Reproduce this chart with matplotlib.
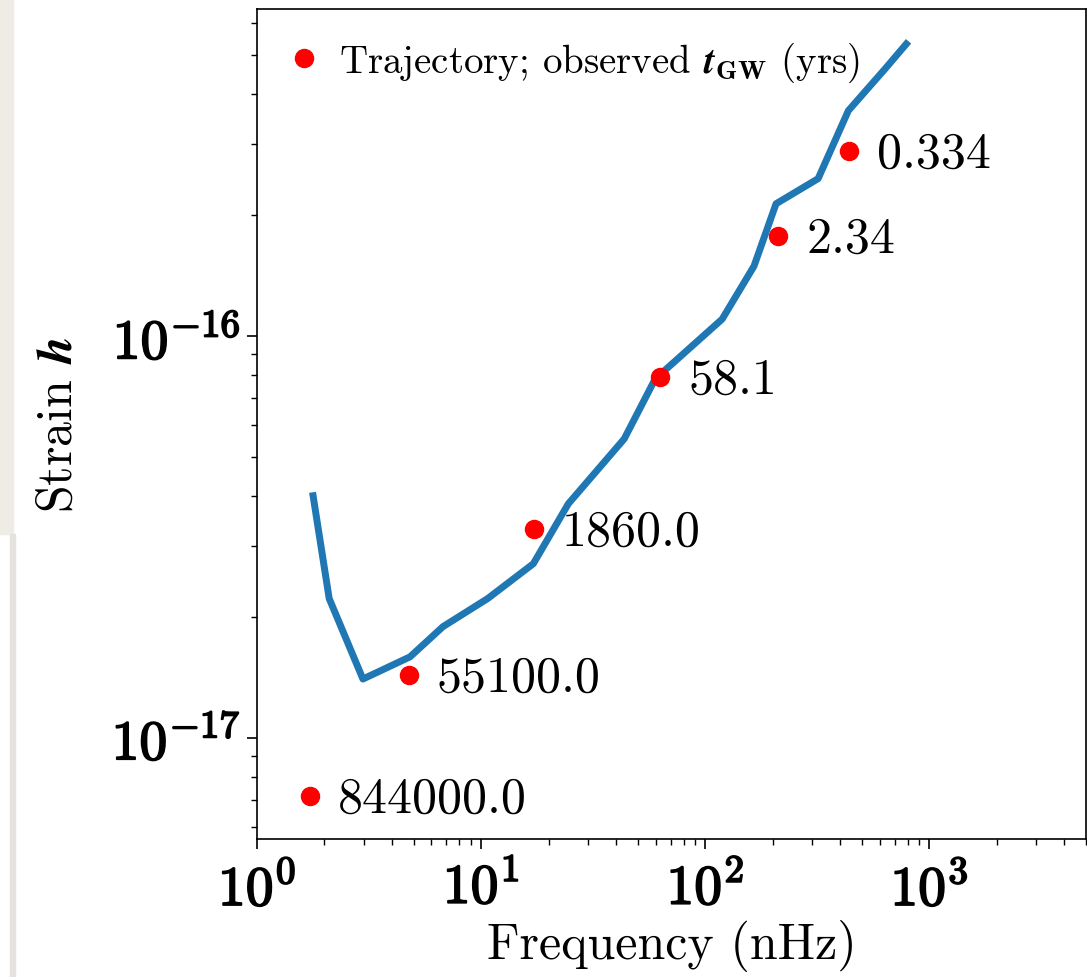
import numpy as np
import matplotlib
matplotlib.use("Agg")
import matplotlib.pyplot as plt
import matplotlib.patheffects as pe
from matplotlib.patches import Rectangle
from matplotlib.ticker import FuncFormatter, LogLocator, NullFormatter

# ---------------------------------------------------------------
# data
# ---------------------------------------------------------------
# blue curve: frequency (nHz) and strain
curve_freq = [1.78, 2.10, 2.97, 4.82, 6.76, 10.7, 17.1, 24.5, 43.5, 59.8,
              119, 165, 207, 319, 435, 636, 789]
curve_strain = [4.0e-17, 2.22e-17, 1.40e-17, 1.59e-17, 1.89e-17, 2.22e-17,
                2.71e-17, 3.82e-17, 5.54e-17, 7.81e-17, 1.10e-16, 1.49e-16,
                2.13e-16, 2.46e-16, 3.63e-16, 4.62e-16, 5.32e-16]

# red trajectory points with observed t_GW (yrs)
traj_freq = [1.72, 4.77, 17.2, 63.0, 212, 439]
traj_strain = [7.18e-18, 1.43e-17, 3.31e-17, 7.91e-17, 1.77e-16, 2.88e-16]
traj_tgw = ["844000.0", "55100.0", "1860.0", "58.1", "2.34", "0.334"]

# ---------------------------------------------------------------
# style: computer modern look
# ---------------------------------------------------------------
plt.rcParams["font.family"] = "serif"
plt.rcParams["font.serif"] = ["cmr10", "DejaVu Serif"]
plt.rcParams["mathtext.fontset"] = "cm"
plt.rcParams["axes.unicode_minus"] = False
plt.rcParams["axes.formatter.use_mathtext"] = True

fig = plt.figure(figsize=(10.87, 9.78), dpi=100)
ax = fig.add_axes([0.2364, 0.1411, 0.7627, 0.8487])

# little bit of page background on the far left, as in the screenshot
fig.patches.append(Rectangle((0, 1 - 535 / 978), 13 / 1087, 535 / 978,
                             transform=fig.transFigure, color="#efebe5", zorder=-5))
fig.patches.append(Rectangle((10 / 1087, 0), 5 / 1087, 1 - 535 / 978,
                             transform=fig.transFigure, color="#e6e3de", zorder=-5))

ax.plot(curve_freq, curve_strain, color="#1f77b4", lw=5, zorder=2)
ax.plot(traj_freq, traj_strain, "o", color="red", ms=13, ls="none",
        label=r"Trajectory; observed $\mathbfit{t}_{\mathbf{GW}}$ (yrs)", zorder=3)

for f, s, lab in zip(traj_freq, traj_strain, traj_tgw):
    ax.annotate(lab, (f, s), xytext=(20, -2), textcoords="offset points",
                va="center", ha="left", fontsize=36)

ax.set_xscale("log")
ax.set_yscale("log")
ax.set_xlim(1, 5000)
ax.set_ylim(5.6e-18, 6.5e-16)

bold_pow = FuncFormatter(lambda v, p: r"$\mathbf{10^{%d}}$" % round(np.log10(v)))
ax.xaxis.set_major_formatter(bold_pow)
ax.yaxis.set_major_formatter(bold_pow)
ax.xaxis.set_minor_formatter(NullFormatter())
ax.yaxis.set_minor_formatter(NullFormatter())
ax.xaxis.set_minor_locator(LogLocator(base=10, subs=np.arange(2, 10), numticks=20))
ax.yaxis.set_minor_locator(LogLocator(base=10, subs=np.arange(2, 10), numticks=20))

ax.tick_params(which="major", length=7, width=1.2, labelsize=40, pad=5)
ax.tick_params(axis="x", which="major", pad=8)
ax.tick_params(which="minor", length=4, width=1.0)
for sp in ax.spines.values():
    sp.set_linewidth(1.2)

ax.set_xlabel("Frequency (nHz)", fontsize=36, labelpad=2)
ax.set_ylabel(r"Strain $\mathbfit{h}$", fontsize=36)
ax.yaxis.set_label_coords(-0.211, 0.5)

ax.legend(loc="upper left", bbox_to_anchor=(0, 0.9916), frameon=False,
          fontsize=28, numpoints=1, handletextpad=0.3, borderaxespad=0.2,
          handlelength=1.2)

# thicken the tick labels so they look like bold extended CM
fig.canvas.draw()
for lab in ax.get_xticklabels() + ax.get_yticklabels():
    lab.set_path_effects([pe.withStroke(linewidth=1.3, foreground="black")])

fig.savefig("out.png", dpi=100)
